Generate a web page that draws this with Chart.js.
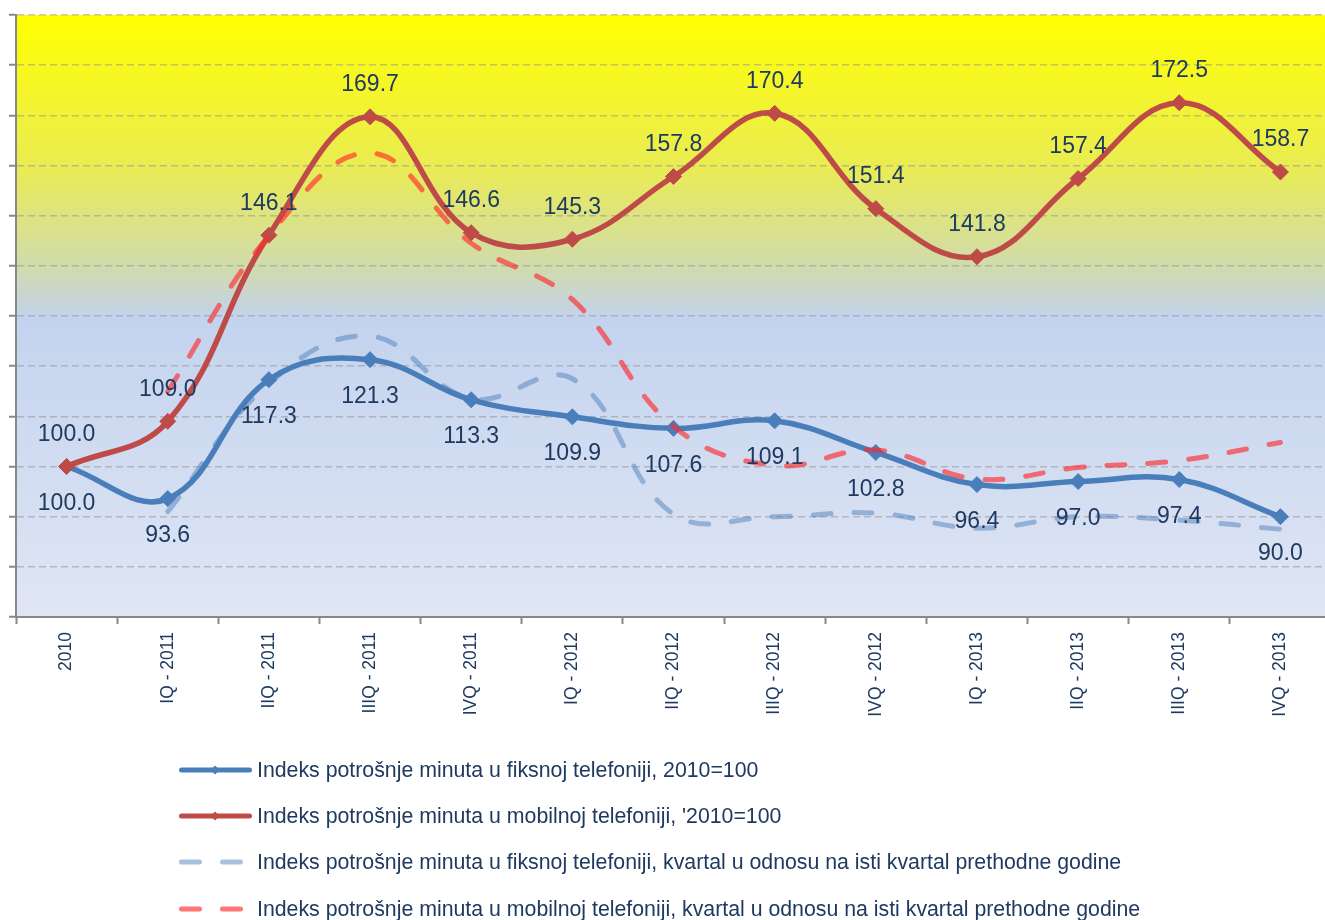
<!DOCTYPE html>
<html>
<head>
<meta charset="utf-8">
<title>Indeks potrošnje minuta</title>
<script src="https://cdn.jsdelivr.net/npm/chart.js@4.4.1/dist/chart.umd.min.js"></script>
<style>
  html, body { margin: 0; padding: 0; background: #ffffff; overflow: hidden; }
  #wrap { width: 1325px; height: 920px; overflow: hidden; position: relative; }
  #indexChart { display: block; }
</style>
</head>
<body>
<div id="wrap">
  <canvas id="indexChart" width="1340" height="920"></canvas>
</div>
<script>
// categories (quarters)
const quarters = ["2010", "IQ - 2011", "IIQ - 2011", "IIIQ - 2011", "IVQ - 2011", "IQ - 2012", "IIQ - 2012",
  "IIIQ - 2012", "IVQ - 2012", "IQ - 2013", "IIQ - 2013", "IIIQ - 2013", "IVQ - 2013"]

// 2010 = 100
const fixedIndex = [100.0, 93.6, 117.3, 121.3, 113.3, 109.9, 107.6, 109.1, 102.8, 96.4, 97.0, 97.4, 90.0]
const mobileIndex = [100.0, 109.0, 146.1, 169.7, 146.6, 145.3, 157.8, 170.4, 151.4, 141.8, 157.4, 172.5, 158.7]

// quarter vs same quarter of previous year
const fixedYoY = [null, 91.0, 116.5, 126.0, 113.5, 117.5, 90.5, 90.0, 90.7, 87.7, 90.0, 89.3, 87.5]
const mobileYoY = [null, 115.0, 146.0, 162.5, 144.5, 133.3, 108.0, 100.2, 103.3, 97.5, 99.8, 101.2, 104.8]

const seriesNames = [
  "Indeks potrošnje minuta u fiksnoj telefoniji, 2010=100",
  "Indeks potrošnje minuta u mobilnoj telefoniji, '2010=100",
  "Indeks potrošnje minuta u fiksnoj telefoniji, kvartal u odnosu na isti kvartal prethodne godine",
  "Indeks potrošnje minuta u mobilnoj telefoniji, kvartal u odnosu na isti kvartal prethodne godine",
]

const FONT = "'Liberation Sans', Arial, sans-serif"
const TEXT_COLOR = "#1f3a60"
const BLUE = "#4a7ebb"
const RED = "#be4b48"
const BLUE_DASH = "rgba(74, 126, 187, 0.48)"
const RED_DASH = "rgba(255, 40, 42, 0.64)"
const DASH = [18, 23]

// plot background: yellow at top fading to blue
const backgroundPlugin = {
  id: "plotBackground",
  beforeDraw(chart) {
    const { ctx, chartArea } = chart
    ctx.save()
    ctx.fillStyle = "#ffffff"
    ctx.fillRect(0, 0, chart.width, chart.height)
    const g = ctx.createLinearGradient(0, chartArea.top, 0, chartArea.bottom)
    g.addColorStop(0, "#ffff00")
    g.addColorStop(0.25, "#eaec52")
    g.addColorStop(0.42, "#d0dbae")
    g.addColorStop(0.49, "#c5d3e2")
    g.addColorStop(0.5, "#c3d3ee")
    g.addColorStop(1, "#e0e6f4")
    ctx.fillStyle = g
    ctx.fillRect(chartArea.left, chartArea.top, chartArea.right - chartArea.left, chartArea.bottom - chartArea.top)
    ctx.restore()
  },
}

// value labels for the two solid series
const valueLabelPlugin = {
  id: "valueLabels",
  afterDatasetsDraw(chart) {
    const ctx = chart.ctx
    ctx.save()
    ctx.font = "23px " + FONT
    ctx.fillStyle = TEXT_COLOR
    ctx.textAlign = "center"
    ctx.textBaseline = "middle"
    chart.data.datasets.forEach((ds, i) => {
      if (!ds.labelOffset) return
      const meta = chart.getDatasetMeta(i)
      meta.data.forEach((pt, j) => {
        const v = ds.data[j]
        if (v == null) return
        ctx.fillText(v.toFixed(1), pt.x, pt.y + ds.labelOffset)
      })
    })
    ctx.restore()
  },
}

// legend below the axis
const legendPlugin = {
  id: "bottomLegend",
  afterDraw(chart) {
    const ctx = chart.ctx
    const rows = [770, 816, 862, 909]
    const styles = [
      { color: BLUE, dash: [], marker: true },
      { color: RED, dash: [], marker: true },
      { color: BLUE_DASH, dash: DASH, marker: false },
      { color: RED_DASH, dash: DASH, marker: false },
    ]
    ctx.save()
    rows.forEach((y, i) => {
      const s = styles[i]
      ctx.strokeStyle = s.color
      ctx.lineWidth = 5
      ctx.lineCap = "round"
      ctx.setLineDash(s.dash)
      ctx.beginPath()
      ctx.moveTo(181.5, y)
      ctx.lineTo(249.5, y)
      ctx.stroke()
      if (s.marker) {
        ctx.setLineDash([])
        ctx.fillStyle = s.color
        ctx.beginPath()
        ctx.moveTo(215, y - 4.5)
        ctx.lineTo(219.5, y)
        ctx.lineTo(215, y + 4.5)
        ctx.lineTo(210.5, y)
        ctx.closePath()
        ctx.fill()
      }
      ctx.setLineDash([])
      ctx.font = "21.3px " + FONT
      ctx.fillStyle = TEXT_COLOR
      ctx.textAlign = "left"
      ctx.textBaseline = "middle"
      ctx.fillText(seriesNames[i], 257, y + 1)
    })
    ctx.restore()
  },
}

function solidSeries(label, data, color, labelOffset, order) {
  return {
    label: label,
    data: data,
    borderColor: color,
    backgroundColor: color,
    borderWidth: 5.5,
    tension: 0.4,
    pointStyle: "rectRot",
    pointRadius: 8,
    pointBorderWidth: 1,
    pointBackgroundColor: color,
    pointBorderColor: color,
    labelOffset: labelOffset,
    order: order,
  }
}

function dashedSeries(label, data, color, order) {
  return {
    label: label,
    data: data,
    borderColor: color,
    backgroundColor: color,
    borderWidth: 5,
    borderDash: DASH,
    borderCapStyle: "round",
    tension: 0.4,
    pointRadius: 0,
    order: order,
  }
}

function initializeChart() {
  const ctx = document.getElementById("indexChart")
  if (!ctx) return

  new Chart(ctx, {
    type: "line",
    data: {
      labels: quarters,
      datasets: [
        solidSeries(seriesNames[0], fixedIndex, BLUE, 37, 4),
        solidSeries(seriesNames[1], mobileIndex, RED, -32, 3),
        dashedSeries(seriesNames[2], fixedYoY, BLUE_DASH, 2),
        dashedSeries(seriesNames[3], mobileYoY, RED_DASH, 1),
      ],
    },
    options: {
      responsive: false,
      animation: false,
      devicePixelRatio: 1,
      layout: {
        padding: { top: 15, left: 0, right: 3, bottom: 203 },
      },
      plugins: {
        legend: { display: false },
        tooltip: { enabled: false },
      },
      scales: {
        x: {
          offset: true,
          afterFit: (scale) => { scale.height = 100 },
          border: { color: "#888888", width: 2 },
          grid: {
            offset: true,
            drawOnChartArea: false,
            drawTicks: true,
            tickLength: 7,
            tickColor: "#888888",
            tickWidth: 2,
          },
          ticks: {
            autoSkip: false,
            minRotation: 90,
            maxRotation: 90,
            padding: 8,
            color: TEXT_COLOR,
            font: { family: FONT, size: 17.5 },
          },
        },
        y: {
          min: 70,
          max: 190,
          afterFit: (scale) => { scale.width = 16 },
          border: { color: "#888888", width: 2, dash: [7, 4] },
          grid: {
            color: "rgba(150, 150, 150, 0.55)",
            lineWidth: 1.5,
            drawTicks: true,
            tickLength: 7,
            tickColor: "#888888",
            tickWidth: 2,
            tickBorderDash: [],
          },
          ticks: {
            stepSize: 10,
            callback: () => "",
          },
        },
      },
    },
    plugins: [backgroundPlugin, valueLabelPlugin, legendPlugin],
  })
}

document.addEventListener("DOMContentLoaded", () => {
  initializeChart()
})
</script>
</body>
</html>
